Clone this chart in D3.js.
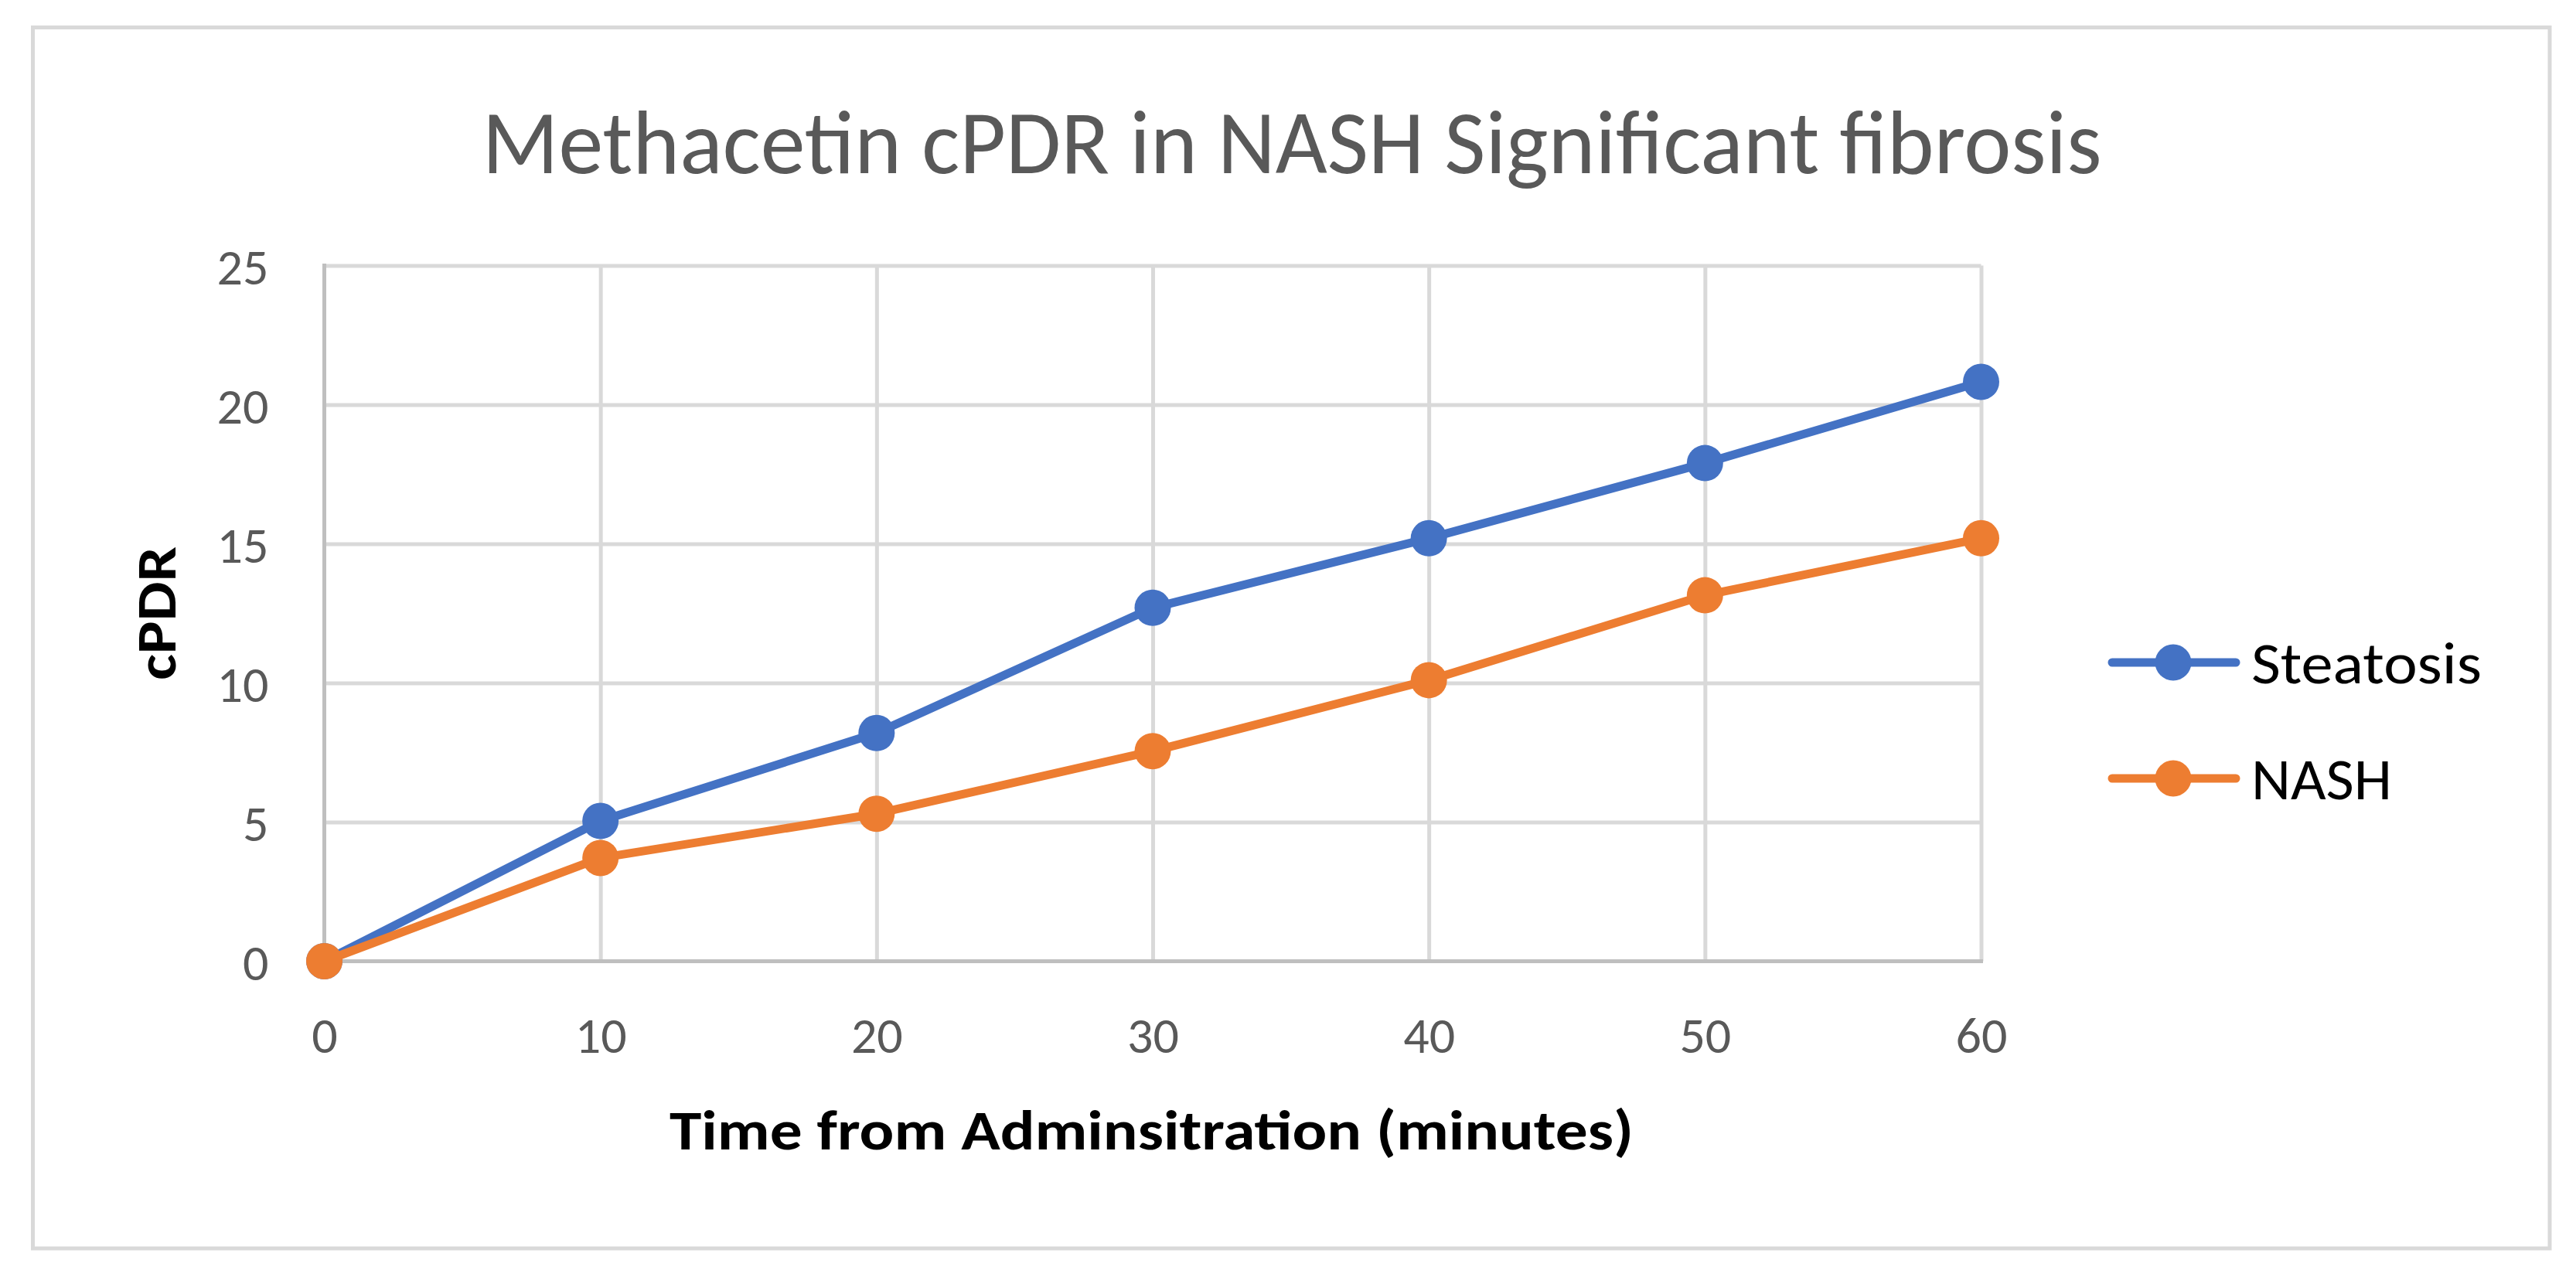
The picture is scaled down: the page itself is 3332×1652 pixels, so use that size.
<!DOCTYPE html>
<html>
<head>
<meta charset="utf-8">
<script src="https://cdn.jsdelivr.net/npm/d3@7"></script>
<style>
  html, body { margin: 0; padding: 0; background: #ffffff; }
  svg { display: block; }
  text { font-family: Carlito, Calibri, Lato, "Open Sans", sans-serif; }
</style>
</head>
<body>
<svg id="chart" width="3332" height="1652"></svg>
<script>
// ---- data ----
const times = [0, 10, 20, 30, 40, 50, 60];
const steatosis = [0, 5.04, 8.2, 12.7, 15.2, 17.9, 20.82];
const nash = [0, 3.71, 5.3, 7.55, 10.1, 13.15, 15.2];
const seriesNames = ["Steatosis", "NASH"];
const xTicks = [0, 10, 20, 30, 40, 50, 60];
const yTicks = [0, 5, 10, 15, 20, 25];
const titleText = "Methacetin cPDR in NASH Significant fibrosis";
const xTitleText = "Time from Adminsitration (minutes)";
const yTitleText = "cPDR";

// ---- layout ----
const W = 3332, H = 1652;
const plot = { left: 419.5, right: 2562.5, top: 343.5, bottom: 1243.5 };
const colors = ["#4472C4", "#ED7D31"];
const svg = d3.select("#chart");

const x = d3.scaleLinear().domain([0, 60]).range([plot.left, plot.right]);
const y = d3.scaleLinear().domain([0, 25]).range([plot.bottom, plot.top]);

function fit(sel, width) {
  sel.attr("textLength", width).attr("lengthAdjust", "spacingAndGlyphs");
}

// chart border
svg.append("rect")
  .attr("x", 42.5).attr("y", 35.5)
  .attr("width", 3298 - 42.5).attr("height", 1615 - 35.5)
  .attr("fill", "#ffffff").attr("stroke", "#d9d9d9").attr("stroke-width", 5);

// title
svg.append("text")
  .attr("x", 1671).attr("y", 224)
  .attr("text-anchor", "middle")
  .attr("fill", "#595959")
  .attr("font-size", 118)
  .text(titleText)
  .call(fit, 2095);

// horizontal gridlines
const gy = svg.append("g")
  .attr("transform", `translate(${plot.left},0)`)
  .call(d3.axisLeft(y).tickValues(yTicks.filter(d => d > 0))
    .tickSize(-(plot.right - plot.left)).tickFormat(""));
gy.select(".domain").remove();
gy.selectAll("line").attr("stroke", "#d9d9d9").attr("stroke-width", 5);

// vertical gridlines
const gx = svg.append("g")
  .attr("transform", `translate(0,${plot.bottom})`)
  .call(d3.axisBottom(x).tickValues(xTicks.filter(d => d > 0))
    .tickSize(-(plot.bottom - plot.top)).tickFormat(""));
gx.select(".domain").remove();
gx.selectAll("line").attr("stroke", "#d9d9d9").attr("stroke-width", 5);

// axis lines
svg.append("line")
  .attr("x1", x(0)).attr("x2", x(0))
  .attr("y1", y(25) - 2.5).attr("y2", y(0))
  .attr("stroke", "#bfbfbf").attr("stroke-width", 5);
svg.append("line")
  .attr("x1", x(0) - 2.5).attr("x2", x(60) + 2.5)
  .attr("y1", y(0)).attr("y2", y(0))
  .attr("stroke", "#bfbfbf").attr("stroke-width", 5);

// y tick labels
const yAxis = svg.append("g")
  .attr("transform", `translate(${plot.left},0)`)
  .call(d3.axisLeft(y).tickValues(yTicks).tickSize(0).tickPadding(72));
yAxis.select(".domain").remove();
yAxis.selectAll("text")
  .attr("dy", null).attr("y", 24)
  .attr("fill", "#595959").attr("font-size", 66)
  .style("font-family", "Carlito, Calibri, Lato, sans-serif");

// x tick labels
const xAxis = svg.append("g")
  .attr("transform", `translate(0,${plot.bottom})`)
  .call(d3.axisBottom(x).tickValues(xTicks).tickSize(0));
xAxis.select(".domain").remove();
xAxis.selectAll("text")
  .attr("dy", null).attr("y", 1362 - plot.bottom)
  .attr("fill", "#595959").attr("font-size", 66)
  .style("font-family", "Carlito, Calibri, Lato, sans-serif");

// axis titles
svg.append("text")
  .attr("x", 1489.5).attr("y", 1487)
  .attr("text-anchor", "middle")
  .attr("font-weight", "bold").attr("font-size", 72)
  .attr("fill", "#000000")
  .text(xTitleText)
  .call(fit, 1247);

svg.append("text")
  .attr("transform", "translate(227,793.5) rotate(-90)")
  .attr("text-anchor", "middle")
  .attr("font-weight", "bold").attr("font-size", 72)
  .attr("fill", "#000000")
  .text(yTitleText)
  .call(fit, 173);

// series
const series = [steatosis, nash];
const line = d3.line().x((d, i) => x(times[i])).y(d => y(d));
series.forEach((vals, si) => {
  svg.append("path")
    .datum(vals)
    .attr("d", line)
    .attr("fill", "none")
    .attr("stroke", colors[si])
    .attr("stroke-width", 11)
    .attr("stroke-linejoin", "round")
    .attr("stroke-linecap", "round");
  svg.append("g").selectAll("circle")
    .data(vals)
    .join("circle")
    .attr("cx", (d, i) => x(times[i]))
    .attr("cy", d => y(d))
    .attr("r", 23.5)
    .attr("fill", colors[si]);
});

// legend
const legendY = [857, 1007];
const legendTextW = [298, 182];
seriesNames.forEach((name, i) => {
  const g = svg.append("g").attr("transform", `translate(0,${legendY[i]})`);
  g.append("line")
    .attr("x1", 2732).attr("x2", 2892).attr("y1", 0).attr("y2", 0)
    .attr("stroke", colors[i]).attr("stroke-width", 11)
    .attr("stroke-linecap", "round");
  g.append("circle").attr("cx", 2811).attr("cy", 0).attr("r", 23.5)
    .attr("fill", colors[i]);
  g.append("text")
    .attr("x", 2912).attr("y", 27)
    .attr("font-size", 76).attr("fill", "#000000")
    .text(name)
    .call(fit, legendTextW[i]);
});
</script>
</body>
</html>
